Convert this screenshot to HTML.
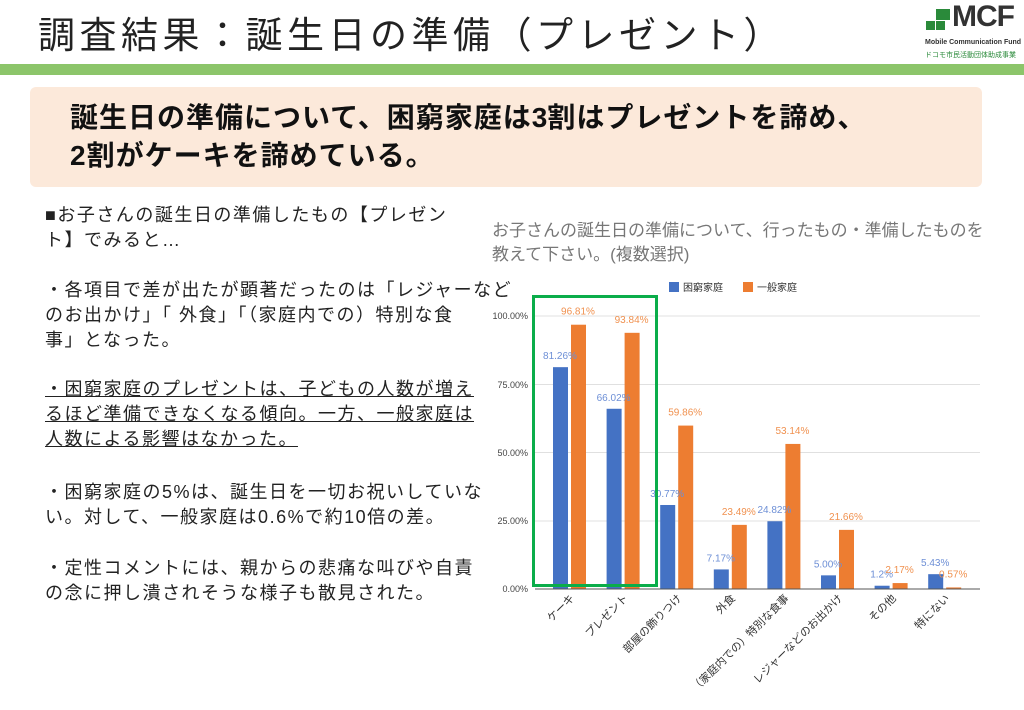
<!DOCTYPE html><html><head><meta charset="utf-8"><style>
body{margin:0;width:1024px;height:710px;background:#fff;font-family:"Liberation Sans","Noto Sans CJK JP",sans-serif;position:relative;overflow:hidden}
.t{position:absolute;left:38px;top:14px;font-size:37px;color:#222;letter-spacing:4.5px;line-height:44px}
.bar{position:absolute;left:0;top:64px;width:1024px;height:11px;background:#8cc56a}
.box{position:absolute;left:30px;top:87px;width:952px;height:100px;background:#fce9da;border-radius:6px}
.box div{position:absolute;left:40px;top:12px;font-size:28px;font-weight:bold;line-height:38px;color:#111;letter-spacing:1px;white-space:nowrap}
.l{position:absolute;left:45px;top:203px;width:470px;font-size:18px;line-height:25px;color:#222;white-space:nowrap;letter-spacing:1.5px}
.l p{margin:0}
</style></head><body>
<div class="t">調査結果：誕生日の準備（プレゼント）</div>
<div style="position:absolute;left:926px;top:8px;width:24px;height:24px">
<div style="position:absolute;left:0;top:13px;width:9px;height:9px;background:#2a8a3a"></div>
<div style="position:absolute;left:10px;top:13px;width:9px;height:9px;background:#2a8a3a"></div>
<div style="position:absolute;left:10px;top:1px;width:14px;height:11px;background:#2a8a3a"></div></div>
<div style="position:absolute;left:952px;top:0px;font-size:30px;font-weight:bold;color:#333;letter-spacing:-1px">MCF</div>
<div style="position:absolute;left:925px;top:39px;font-size:7px;color:#333;font-weight:bold">Mobile Communication Fund</div>
<div style="position:absolute;left:925px;top:50px;font-size:7px;color:#2a8a3a">ドコモ市民活動団体助成事業</div>
<div class="bar"></div>
<div class="box"><div>誕生日の準備について、困窮家庭は<span style="letter-spacing:0">3</span>割はプレゼントを諦め、<br>2割がケーキを諦めている。</div></div>
<div class="l">
<p>■お子さんの誕生日の準備したもの【プレゼン<br>ト】でみると…</p>
<p style="margin-top:25px">・各項目で差が出たが顕著だったのは「レジャーなど<br>のお出かけ」「 外食」「（家庭内での）特別な食<br>事」となった。</p>
<p style="margin-top:24px"><u>・困窮家庭のプレゼントは、子どもの人数が増え<br>るほど準備できなくなる傾向。一方、一般家庭は<br>人数による影響はなかった。</u></p>
<p style="margin-top:28px">・困窮家庭の5%は、誕生日を一切お祝いしていな<br>い。対して、一般家庭は0.6%で約10倍の差。</p>
<p style="margin-top:26px">・定性コメントには、親からの悲痛な叫びや自責<br>の念に押し潰されそうな様子も散見された。</p>
</div>
<div style="position:absolute;left:492px;top:219px;font-size:17px;line-height:24px;color:#777;white-space:nowrap">お子さんの誕生日の準備について、行ったもの・準備したものを<br>教えて下さい。(複数選択)</div>
<svg style="position:absolute;left:0;top:0" width="1024" height="710" font-family="Liberation Sans,Noto Sans CJK JP,sans-serif">
<rect x="669" y="282" width="10" height="10" fill="#4472c4"/><text x="683" y="291" font-size="10" fill="#333">困窮家庭</text>
<rect x="743" y="282" width="10" height="10" fill="#ed7d31"/><text x="757" y="291" font-size="10" fill="#333">一般家庭</text>
<g stroke="#e0e0e0" stroke-width="1"><line x1="535" x2="980" y1="316" y2="316"/><line x1="535" x2="980" y1="384.5" y2="384.5"/><line x1="535" x2="980" y1="452.5" y2="452.5"/><line x1="535" x2="980" y1="521" y2="521"/></g>
<g font-size="9" fill="#444" text-anchor="end"><text x="528" y="319">100.00%</text><text x="528" y="388">75.00%</text><text x="528" y="456">50.00%</text><text x="528" y="524">25.00%</text><text x="528" y="592">0.00%</text></g>
<g id="bars"></g>
<line x1="535" x2="980" y1="589" y2="589" stroke="#555"/>
<rect x="533.5" y="296.5" width="123" height="289" fill="none" stroke="#0aad4a" stroke-width="3"/>
</svg>
<script>
var b=[81.26,66.02,30.77,7.17,24.82,5,1.2,5.43],o=[96.81,93.84,59.86,23.49,53.14,21.66,2.17,0.57];
var bl=["81.26%","66.02%","30.77%","7.17%","24.82%","5.00%","1.2%","5.43%"],ol=["96.81%","93.84%","59.86%","23.49%","53.14%","21.66%","2.17%","0.57%"];
var c=["ケーキ","プレゼント","部屋の飾りつけ","外食","（家庭内での）特別な食事","レジャーなどのお出かけ","その他","特にない"];
var s="";
for(var i=0;i<8;i++){var x=553+i*53.6;var hb=b[i]*2.73,ho=o[i]*2.73;
s+='<rect x="'+x+'" y="'+(589-hb)+'" width="15" height="'+hb+'" fill="#4472c4"/>';
s+='<rect x="'+(x+18)+'" y="'+(589-ho)+'" width="15" height="'+ho+'" fill="#ed7d31"/>';
s+='<text x="'+(x+7)+'" y="'+(589-hb-8)+'" font-size="10" fill="#6d8fd6" text-anchor="middle">'+bl[i]+'</text>';
s+='<text x="'+(x+25)+'" y="'+(589-ho-10)+'" font-size="10" fill="#f0914f" text-anchor="middle">'+ol[i]+'</text>';
s+='<text transform="translate('+(x+22)+',599) rotate(-45)" font-size="11" fill="#333" text-anchor="end">'+c[i]+'</text>';}
document.getElementById("bars").innerHTML=s;
</script>
</body></html>
